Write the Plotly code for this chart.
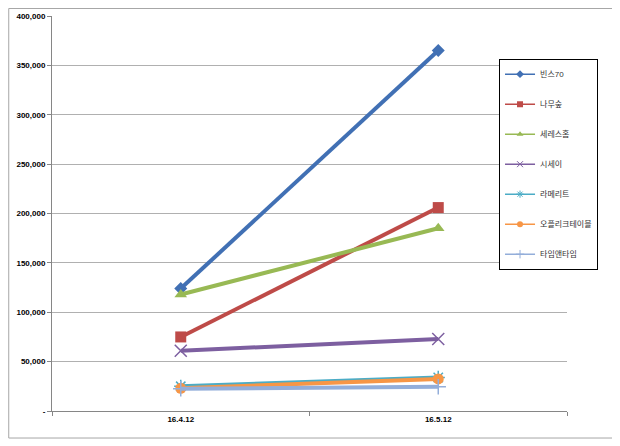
import plotly.graph_objects as go

# 날짜 (카테고리)
dates = ['16.4.12', '16.5.12']

# 브랜드별 값
brands = ['빈스70', '나무숲', '세레스홈', '시세이', '라메리트', '오플리크테이블', '타임앤타임']
vals_vince = [124000, 365000]
vals_namu = [75000, 206000]
vals_ceres = [118000, 185000]
vals_sisei = [61000, 73000]
vals_lamerit = [25000, 34000]
vals_oplik = [23000, 32500]
vals_time = [22500, 24500]

y_ticks = [0, 50000, 100000, 150000, 200000, 250000, 300000, 350000, 400000]
y_ticktext = ['-'] + [f"{v:,}" for v in y_ticks[1:]]

series = [vals_vince, vals_namu, vals_ceres, vals_sisei, vals_lamerit, vals_oplik, vals_time]
colors = ['#4170B4', '#BE4B48', '#98B954', '#7D5FA0', '#4BACC6', '#F79646', '#93AEDA']
symbols = ['diamond', 'square', 'triangle-up', 'x-thin-open', 'asterisk-open', 'circle', 'cross-thin-open']
sizes = [10, 11, 11, 12, 11, 11, 11]

FONT = 'Liberation Sans, Noto Sans CJK KR, sans-serif'

fig = go.Figure()

for name, vals, col, sym, sz in zip(brands, series, colors, symbols, sizes):
    thin = 'thin' in sym or 'asterisk' in sym
    fig.add_trace(go.Scatter(
        x=dates,
        y=vals,
        mode='lines+markers',
        name=name,
        legendgroup=name,
        showlegend=False,
        line=dict(color=col, width=4),
        marker=dict(symbol=sym, size=sz, color=col,
                    line=dict(color=col, width=1.5 if thin else 0))
    ))
    # 범례용 (얇은 선, 작은 마커)
    fig.add_trace(go.Scatter(
        x=[None],
        y=[None],
        mode='lines+markers',
        name=name,
        legendgroup=name,
        showlegend=True,
        line=dict(color=col, width=1.5),
        marker=dict(symbol=sym, size=6, color=col,
                    line=dict(color=col, width=1 if thin else 0))
    ))

# 차트 영역 테두리
fig.add_shape(type='rect', xref='paper', yref='paper',
              x0=-0.084, x1=1.0913, y0=-0.0684, y1=1.019,
              line=dict(color='#A6A6A6', width=1), layer='below')

fig.update_layout(
    width=612,
    height=438,
    margin=dict(l=44, r=53, t=8, b=35),
    paper_bgcolor='white',
    plot_bgcolor='white',
    font=dict(family=FONT, size=8, color='#000000'),
    showlegend=True,
    legend=dict(
        x=0.868, y=0.892, xanchor='left', yanchor='top',
        bgcolor='white', bordercolor='black', borderwidth=1,
        font=dict(family=FONT, size=8, color='#333333'),
        tracegroupgap=11,
        itemwidth=30,
    ),
    xaxis=dict(
        type='category',
        range=[-0.5, 1.5],
        automargin=False,
        showgrid=False,
        showline=True, linecolor='#868686', linewidth=1,
        ticks='outside', tickson='boundaries', ticklen=4, tickcolor='#868686',
        tickfont=dict(family=FONT, size=8, weight='bold'),
        zeroline=False,
    ),
    yaxis=dict(
        range=[0, 400000],
        automargin=False,
        tickvals=y_ticks,
        ticktext=y_ticktext,
        showgrid=True, gridcolor='#B0B0B0', gridwidth=1,
        showline=True, linecolor='#868686', linewidth=1,
        ticks='outside', ticklen=4, tickcolor='#868686',
        tickfont=dict(family=FONT, size=8, weight='bold'),
        zeroline=False,
    ),
)

fig.write_html("out.html")
